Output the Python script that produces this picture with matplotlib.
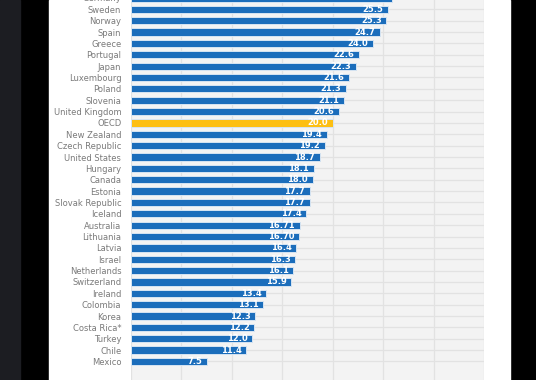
import matplotlib.pyplot as plt
import matplotlib.patches as mpatches
import numpy as np

# data (top to bottom)
countries = ["Germany", "Sweden", "Norway", "Spain", "Greece", "Portugal", "Japan",
             "Luxembourg", "Poland", "Slovenia", "United Kingdom", "OECD", "New Zealand",
             "Czech Republic", "United States", "Hungary", "Canada", "Estonia",
             "Slovak Republic", "Iceland", "Australia", "Lithuania", "Latvia", "Israel",
             "Netherlands", "Switzerland", "Ireland", "Colombia", "Korea", "Costa Rica*",
             "Turkey", "Chile", "Mexico"]
values = [25.9, 25.5, 25.3, 24.7, 24.0, 22.6, 22.3, 21.6, 21.3, 21.1, 20.6, 20.0, 19.4,
          19.2, 18.7, 18.1, 18.0, 17.7, 17.7, 17.4, 16.71, 16.70, 16.4, 16.3, 16.1, 15.9,
          13.4, 13.1, 12.3, 12.2, 12.0, 11.4, 7.5]
value_labels = ["25.9", "25.5", "25.3", "24.7", "24.0", "22.6", "22.3", "21.6", "21.3",
                "21.1", "20.6", "20.0", "19.4", "19.2", "18.7", "18.1", "18.0", "17.7",
                "17.7", "17.4", "16.71", "16.70", "16.4", "16.3", "16.1", "15.9", "13.4",
                "13.1", "12.3", "12.2", "12.0", "11.4", "7.5"]
highlight = "OECD"

BLUE = '#1b6dbb'
GOLD = '#fdbf12'

W, H = 536, 380
fig = plt.figure(figsize=(W / 100, H / 100), dpi=100, facecolor='black')

# page background strips (dark side, black gap, white card)
fig.patches.append(mpatches.Rectangle((0, 0), 19.5 / W, 1, transform=fig.transFigure,
                                      color='#1c1d22', zorder=-2))
fig.patches.append(mpatches.Rectangle((49 / W, 0), (510 - 49) / W, 1, transform=fig.transFigure,
                                      color='white', zorder=-2))

# axes placed in pixels; top row is cut by the figure edge
top_px, bot_px = -7.7, 380.8
ax = fig.add_axes([131 / W, (H - bot_px) / H, (484 - 131) / W, (bot_px - top_px) / H])
ax.set_zorder(2)
ax.set_facecolor('#f3f3f3')

y = np.arange(len(countries))
colors = [GOLD if c == highlight else BLUE for c in countries]
ax.barh(y, values, height=0.64, color=colors, edgecolor='#d6e4f2', linewidth=0.7, zorder=3)

for yi, v, lab in zip(y, values, value_labels):
    ax.text(v - 0.45, yi, lab, ha='right', va='center', color='white',
            fontsize=6, fontweight='bold', zorder=4)

ax.set_xlim(0, 35)
ax.set_ylim(33.7, -0.5)
ax.set_xticks(np.arange(0, 36, 5))
ax.set_yticks(y)
ax.set_yticklabels(countries, fontsize=6, color='#7a7a7a')
ax.tick_params(axis='y', length=0, pad=7)
ax.tick_params(axis='x', length=0, labelbottom=False)
ax.grid(True, color='#e2e2e2', linewidth=0.9, zorder=0)
ax.set_axisbelow(True)
for s in ax.spines.values():
    s.set_visible(False)

plt.savefig('out.png', dpi=100, facecolor=fig.get_facecolor())
